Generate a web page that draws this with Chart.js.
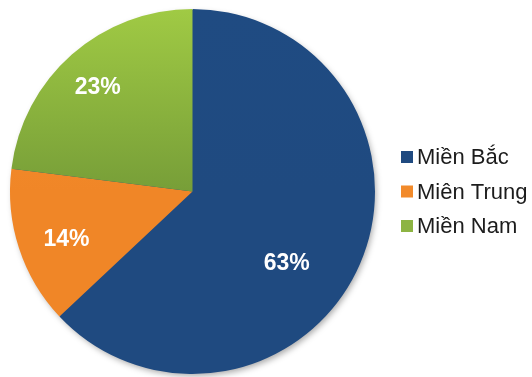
<!DOCTYPE html>
<html>
<head>
<meta charset="utf-8">
<script src="https://cdn.jsdelivr.net/npm/chart.js@4.4.1/dist/chart.umd.min.js"></script>
<style>
    html, body { margin: 0; padding: 0; background: #ffffff; }
    #wrap { width: 532px; height: 377px; position: relative; }
</style>
</head>
<body>
<div id="wrap"><canvas id="regionPie"></canvas></div>
<script>
// share of each region, in percent
const regions = ['Miền Bắc', 'Miên Trung', 'Miền Nam'];
const shares = [63, 14, 23];

// slice fills: [top colour, bottom colour] of a vertical gradient
const sliceColors = [
    ['#1f4b82', '#1f4a80'],
    ['#f8912f', '#f08627'],
    ['#a0ca44', '#779e38'],
];
const legendColors = ['#1f4a80', '#f28a2a', '#8db443'];

// where each percent label sits: fraction of the radius, turn from mid-angle (deg)
const labelRadius = [0.65, 0.74, 0.77];
const labelTurn = [14, -3, -1];

const pieShadow = {
    id: 'pieShadow',
    beforeDatasetsDraw(chart) {
        const arc = chart.getDatasetMeta(0).data[0];
        if (!arc) return;
        const ctx = chart.ctx;
        ctx.save();
        ctx.shadowColor = 'rgba(0, 0, 0, 0.35)';
        ctx.shadowBlur = 6;
        ctx.shadowOffsetX = 2;
        ctx.shadowOffsetY = 3;
        ctx.fillStyle = '#1f4a80';
        ctx.beginPath();
        ctx.arc(arc.x, arc.y, arc.outerRadius - 1, 0, Math.PI * 2);
        ctx.fill();
        ctx.restore();
    }
};

const percentLabels = {
    id: 'percentLabels',
    afterDatasetsDraw(chart) {
        const ctx = chart.ctx;
        const meta = chart.getDatasetMeta(0);
        ctx.save();
        ctx.font = 'bold 23px "Liberation Sans", Arial, sans-serif';
        ctx.fillStyle = '#ffffff';
        ctx.textAlign = 'center';
        ctx.textBaseline = 'middle';
        meta.data.forEach((arc, i) => {
            const mid = (arc.startAngle + arc.endAngle) / 2 + labelTurn[i] * Math.PI / 180;
            const r = arc.outerRadius * labelRadius[i];
            ctx.fillText(shares[i] + '%', arc.x + Math.cos(mid) * r, arc.y + Math.sin(mid) * r);
        });
        ctx.restore();
    }
};

// legend to the right of the pie
const sideLegend = {
    id: 'sideLegend',
    afterDraw(chart) {
        const ctx = chart.ctx;
        const area = chart.chartArea;
        const x = area.right + 26;
        const rowGap = 34.5;
        const y0 = (area.top + area.bottom) / 2 - rowGap;
        ctx.save();
        ctx.font = '22px "Liberation Sans", Arial, sans-serif';
        ctx.textBaseline = 'middle';
        chart.data.labels.forEach((label, i) => {
            const y = y0 + i * rowGap;
            ctx.fillStyle = legendColors[i];
            ctx.fillRect(x, y - 6, 12, 12);
            ctx.fillStyle = '#1c1c1c';
            ctx.fillText(label, x + 16, y + 1);
        });
        ctx.restore();
    }
};

new Chart(document.getElementById('regionPie'), {
    type: 'pie',
    data: {
        labels: regions,
        datasets: [{
            data: shares,
            backgroundColor: (ctx) => {
                const c = sliceColors[ctx.dataIndex];
                const area = ctx.chart.chartArea;
                if (!area) return c[0];
                const g = ctx.chart.ctx.createLinearGradient(0, area.top, 0, area.top + area.height / 2);
                g.addColorStop(0, c[0]);
                g.addColorStop(1, c[1]);
                return g;
            },
            borderWidth: 0,
        }],
    },
    options: {
        responsive: true,
        maintainAspectRatio: false,
        animation: false,
        layout: {
            padding: { top: 9, bottom: 3, left: 10, right: 157 },
        },
        plugins: {
            legend: { display: false },
            tooltip: { enabled: false },
        },
    },
    plugins: [pieShadow, percentLabels, sideLegend],
});
</script>
</body>
</html>
